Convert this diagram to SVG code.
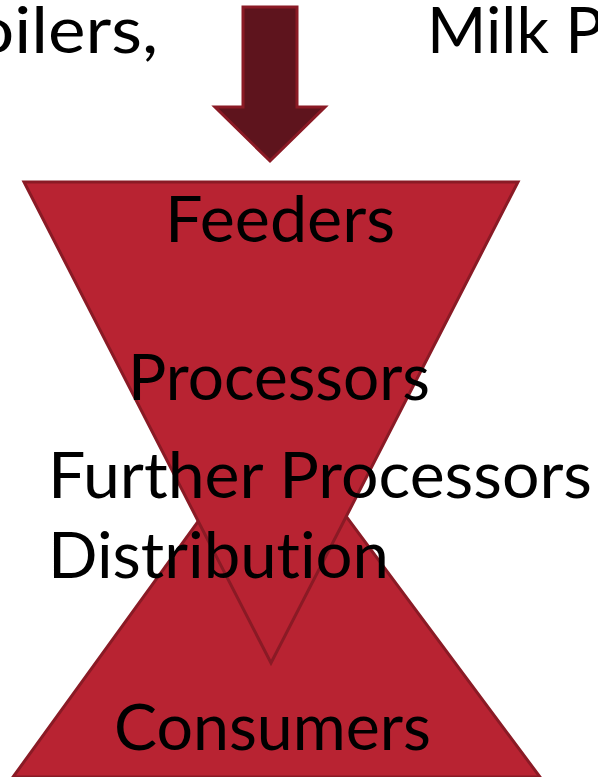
<svg xmlns="http://www.w3.org/2000/svg" width="598" height="777" viewBox="0 0 598 777">
<style>
.t{font-family:Lato,"Liberation Sans","DejaVu Sans",sans-serif;font-size:64px;fill:#000;font-variant-ligatures:none;font-feature-settings:"liga" 0,"dlig" 0}
.tri{fill:#B82332;stroke:#8A1A25;stroke-width:3;stroke-linejoin:miter}
.arrow{fill:#5E141D;stroke:#8A1A25;stroke-width:3}
</style>
<rect width="598" height="777" fill="#fff"/>
<g id="consumers-triangle">
<polygon class="tri" points="273,418 540,777 13,777"/>
</g>
<g id="supply-triangle">
<polygon class="tri" points="24,182 518,182 271,663"/>
</g>
<g id="connectors">
<polygon class="arrow" points="243,7 297,7 297,107 325,107 270,161 215,107 243,107"/>
</g>
<g id="labels">
<text class="t" x="-26" y="53" textLength="184" lengthAdjust="spacingAndGlyphs">oilers,</text>
<text class="t" x="427" y="53">Milk P</text>
<text class="t" x="165" y="242" textLength="230" lengthAdjust="spacingAndGlyphs">Feeders</text>
<text class="t" x="128" y="400" textLength="302" lengthAdjust="spacingAndGlyphs">Processors</text>
<text class="t" x="48" y="498" textLength="544" lengthAdjust="spacingAndGlyphs">Further Processors</text>
<text class="t" x="48" y="578" textLength="341" lengthAdjust="spacingAndGlyphs">Distribution</text>
<text class="t" x="114" y="750" textLength="317" lengthAdjust="spacingAndGlyphs">Consumers</text>
</g>
</svg>
